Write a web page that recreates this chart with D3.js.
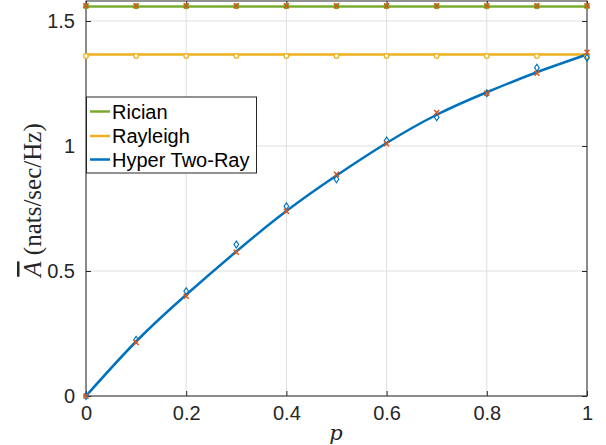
<!DOCTYPE html>
<html><head><meta charset="utf-8">
<script src="https://cdn.jsdelivr.net/npm/d3@7"></script>
<style>body{margin:0;background:#fff}svg{display:block}</style>
</head><body>
<svg id="chart" width="606" height="445"></svg>
<script>
const pValues = [0,0.1,0.2,0.3,0.4,0.5,0.6,0.7,0.8,0.9,1];
const ricianLine = [1.558,1.558,1.558,1.558,1.558,1.558,1.558,1.558,1.558,1.558,1.558];
const rayleighLine = [1.366,1.366,1.366,1.366,1.366,1.366,1.366,1.366,1.366,1.366,1.366];
const hyperLine = [0,0.218,0.405,0.578,0.740,0.882,1.012,1.125,1.215,1.295,1.366];
const ricianSim = [1.559,1.559,1.559,1.559,1.559,1.559,1.559,1.559,1.559,1.559,1.559];
const ricianApprox = [1.561,1.561,1.561,1.561,1.561,1.561,1.561,1.561,1.561,1.561,1.561];
const rayleighSim = [1.360,1.360,1.360,1.360,1.360,1.360,1.360,1.360,1.360,1.360,1.360];
const hyperSim = [0,0.225,0.419,0.606,0.759,0.867,1.022,1.115,1.211,1.313,1.353];
const hyperApprox = [0,0.214,0.399,0.575,0.739,0.887,1.009,1.134,1.211,1.291,1.375];
const xTicks = [0,0.2,0.4,0.6,0.8,1];
const yTicks = [0,0.5,1,1.5];
const legendLabels = ["Rician","Rayleigh","Hyper Two-Ray"];

const C = {blue:"#0072BD", red:"#D95319", yellow:"#EDB120", green:"#77AC30"};
const svg = d3.select("#chart");
const L=86, R=587, T=1, B=396;
const x = d3.scaleLinear().domain([0,1]).range([L,R]);
const y = d3.scaleLinear().domain([0,1.58]).range([B,T]);

// grid
const g = svg.append("g");
g.selectAll(".gx").data(xTicks).enter().append("line")
  .attr("x1",d=>x(d)).attr("x2",d=>x(d)).attr("y1",T).attr("y2",B)
  .attr("stroke","#dfdfdf").attr("stroke-width",1);
g.selectAll(".gy").data(yTicks).enter().append("line")
  .attr("y1",d=>y(d)).attr("y2",d=>y(d)).attr("x1",L).attr("x2",R)
  .attr("stroke","#dfdfdf").attr("stroke-width",1);

// axes
const fmt = d=>String(d);
const font = "'Liberation Sans', Arial, sans-serif";
function styleAxis(sel){
  sel.select(".domain").remove();
  sel.selectAll(".tick line").attr("stroke","#262626").attr("stroke-width",1);
  sel.selectAll(".tick text").attr("fill","#262626").style("font-family",font).style("font-size","20px");
}
svg.append("g").attr("transform",`translate(0,${B})`)
  .call(d3.axisBottom(x).tickValues(xTicks).tickFormat(fmt).tickSizeInner(-5).tickSizeOuter(0).tickPadding(10))
  .call(styleAxis);
svg.append("g").attr("transform",`translate(0,${T})`)
  .call(d3.axisTop(x).tickValues(xTicks).tickFormat("").tickSizeInner(-5).tickSizeOuter(0))
  .call(styleAxis);
svg.append("g").attr("transform",`translate(${L},0)`)
  .call(d3.axisLeft(y).tickValues(yTicks).tickFormat(fmt).tickSizeInner(-5).tickSizeOuter(0).tickPadding(11))
  .call(styleAxis);
svg.append("g").attr("transform",`translate(${R},0)`)
  .call(d3.axisRight(y).tickValues(yTicks).tickFormat("").tickSizeInner(-5).tickSizeOuter(0))
  .call(styleAxis);
svg.append("rect").attr("x",L).attr("y",T).attr("width",R-L).attr("height",B-T)
  .attr("fill","none").attr("stroke","#262626").attr("stroke-width",1);

// lines
const line = d3.line().x((d,i)=>x(pValues[i])).y(d=>y(d));
const curve = d3.line().x((d,i)=>x(pValues[i])).y(d=>y(d)).curve(d3.curveNatural);
svg.append("path").datum(ricianLine).attr("d",line).attr("fill","none").attr("stroke",C.green).attr("stroke-width",2.5);
svg.append("path").datum(rayleighLine).attr("d",line).attr("fill","none").attr("stroke",C.yellow).attr("stroke-width",2.5);
svg.append("path").datum(hyperLine).attr("d",curve).attr("fill","none").attr("stroke",C.blue).attr("stroke-width",2.5);

// markers
function circles(data,color,fill){
  svg.append("g").selectAll("circle").data(data).enter().append("circle")
    .attr("cx",(d,i)=>x(pValues[i])).attr("cy",d=>y(d)).attr("r",2.3)
    .attr("fill",fill).attr("stroke",color).attr("stroke-width",1.2);
}
function diamonds(data,color){
  svg.append("g").selectAll("path").data(data).enter().append("path")
    .attr("transform",(d,i)=>`translate(${x(pValues[i])},${y(d)})`)
    .attr("d","M0,-3.5L2.3,0L0,3.5L-2.3,0Z")
    .attr("fill","none").attr("stroke",color).attr("stroke-width",1.2);
}
function crosses(data,color){
  svg.append("g").selectAll("path").data(data).enter().append("path")
    .attr("transform",(d,i)=>`translate(${x(pValues[i])},${y(d)})`)
    .attr("d","M-2.5,-2.5L2.5,2.5M-2.5,2.5L2.5,-2.5")
    .attr("fill","none").attr("stroke",color).attr("stroke-width",1.5);
}
circles(ricianSim,C.green,C.green);
crosses(ricianApprox,C.red);
circles(rayleighSim,C.yellow,"#fff");
diamonds(hyperSim,C.blue);
crosses(hyperApprox,C.red);

// legend
const lg = svg.append("g");
lg.append("rect").attr("x",86.5).attr("y",97).attr("width",170).attr("height",76)
  .attr("fill","#fff").attr("stroke","#262626").attr("stroke-width",1);
const legColors=[C.green,C.yellow,C.blue];
const legY=[111.5,136,159.5];
legendLabels.forEach((t,i)=>{
  lg.append("line").attr("x1",90).attr("x2",110).attr("y1",legY[i]).attr("y2",legY[i])
    .attr("stroke",legColors[i]).attr("stroke-width",2.5);
  lg.append("text").attr("x",112).attr("y",legY[i]+7).text(t)
    .attr("fill","#000").style("font-family",font).style("font-size","20px");
});

// axis labels
svg.append("text").attr("x",336).attr("y",440).attr("text-anchor","middle")
  .style("font-family","'DejaVu Serif', 'Liberation Serif', serif").style("font-style","italic")
  .style("font-size","21px").attr("fill","#262626").text("p");
const yl = svg.append("text").attr("transform","translate(41,200) rotate(-90)").attr("text-anchor","middle")
  .style("font-family","'Liberation Serif', 'DejaVu Serif', serif").style("font-size","25px").attr("fill","#262626");
yl.append("tspan").style("font-style","italic").style("text-decoration","overline").text("A");
yl.append("tspan").text(" (nats/sec/Hz)");
</script>
</body></html>
